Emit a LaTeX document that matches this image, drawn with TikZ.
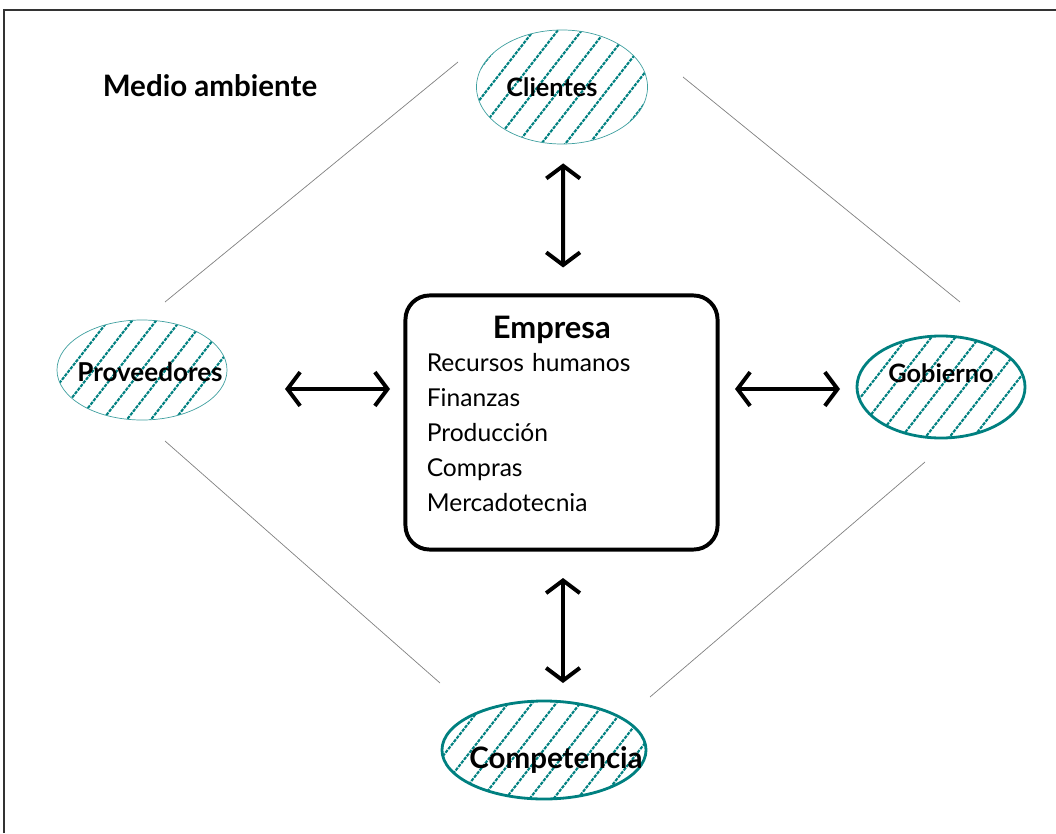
\documentclass[tikz,border=0pt]{standalone}
\usepackage{fontspec}
\setmainfont{Lato}
\usetikzlibrary{arrows.meta,shapes.geometric,calc}
\definecolor{verdeazul}{RGB}{0,128,128}

\begin{document}
\begin{tikzpicture}[
    x=0.025cm, y=-0.025cm,
    rayado/.style={verdeazul, line width=1.5pt, dash pattern=on 2.4pt off 0.8pt},
    ambiente/.style={ellipse, draw=verdeazul, inner sep=0pt,
        path picture={
            \foreach \i in {-8,...,8}
                \draw[rayado] ($(path picture bounding box.center)+(\i*24-80,102)$) -- ++(160,-205);
        }},
    delgada/.style={line width=0.5pt, draw=verdeazul!75},
    gruesa/.style={line width=2pt},
    etiqueta/.style={font=\bfseries\fontsize{18}{20}\selectfont},
    empresa/.style={rectangle, draw, rounded corners=0.6cm, line width=2.8pt,
        minimum width=7.8cm, minimum height=6.35cm},
    flecha/.style={{Straight Barb[length=9pt,width=24pt]}-{Straight Barb[length=9pt,width=24pt]}, line width=2.8pt},
    linea/.style={draw=gray, line width=0.5pt}
]
    \useasboundingbox (0,0) rectangle (1056,833);

    % marco
    \draw[line width=0.8pt, black!80] (4,833) -- (4,10) -- (1056,10);

    % titulo
    \node[font=\bfseries\fontsize{21}{24}\selectfont] (titulo) at (210,86) {Medio ambiente};

    % elementos del medio ambiente
    \node[ambiente, delgada, minimum width=4.275cm, minimum height=2.85cm,
        label={[etiqueta, xshift=-0.25cm]center:Clientes}] (clientes) at (562,87) {};
    \node[ambiente, delgada, minimum width=4.25cm, minimum height=2.5cm,
        label={[etiqueta, font=\bfseries\fontsize{18.5}{20}\selectfont, xshift=0.2cm, yshift=-0.05cm]center:Proveedores}] (prov) at (142,370) {};
    \node[ambiente, gruesa, minimum width=4.2cm, minimum height=2.55cm,
        label={[etiqueta, yshift=0.35cm]center:Gobierno}] (gobierno) at (941,387) {};
    \node[ambiente, gruesa, minimum width=5.1cm, minimum height=2.45cm,
        label={[etiqueta, font=\bfseries\fontsize{21}{24}\selectfont, xshift=0.3cm, yshift=-0.25cm]center:Competencia}] (competencia) at (544,750) {};

    % empresa
    \node[empresa] (empresa) at (561.5,422.5) {};
    \node[anchor=north west, align=left, inner sep=0pt, text width=6.25cm,
        font=\fontsize{17.5}{24.8}\selectfont] (areas) at ([shift={(23,22)}]empresa.north west)
        {\makebox[\linewidth]{\bfseries\fontsize{22}{24}\selectfont Empresa}\\[-1pt]
         Recursos humanos\\ Finanzas\\ Producción\\ Compras\\ Mercadotecnia};

    % flechas
    \draw[flecha, shorten <=19*0.025cm, shorten >=26*0.025cm] ([xshift=0.03cm]clientes.south) -- ([xshift=0.04cm]empresa.north);
    \draw[flecha] ($(prov.center)+(143,19)$) -- ($(empresa.center)+(-171.5,-33.5)$);
    \draw[flecha] ($(empresa.center)+(173.5,-33.5)$) -- ($(gobierno.center)+(-101,2)$);
    \draw[flecha] ($(empresa.center)+(1.5,155.5)$) -- ($(competencia.center)+(19,-67)$);

    % lineas del entorno
    \draw[linea] ($(prov.center)+(23,-68)$) -- ($(clientes.center)+(-104,-25)$);
    \draw[linea] ($(clientes.center)+(121,-10)$) -- ($(gobierno.center)+(19,-85)$);
    \draw[linea] ($(prov.center)+(23,71)$) -- ($(competencia.center)+(-104,-67)$);
    \draw[linea] ($(gobierno.center)+(-16,75)$) -- ($(competencia.center)+(106,-53)$);
\end{tikzpicture}
\end{document}
